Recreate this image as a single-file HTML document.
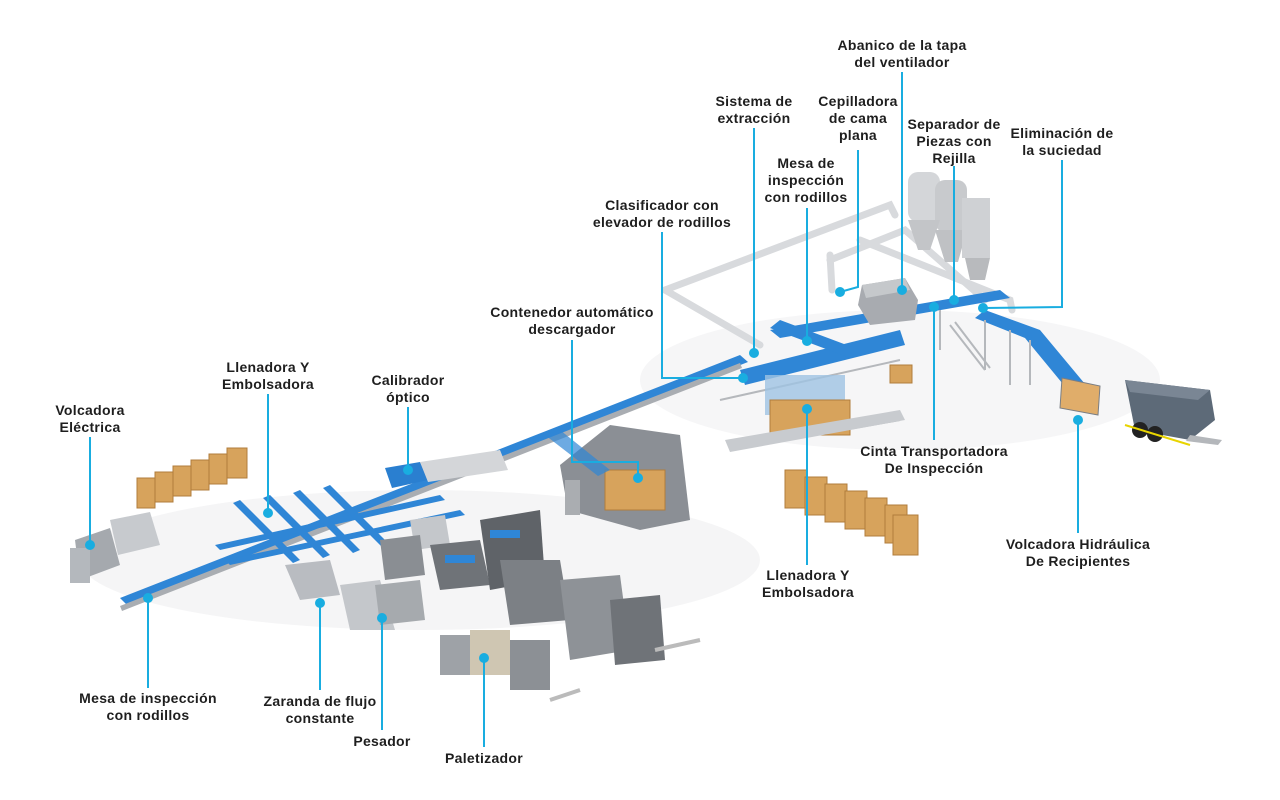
<!DOCTYPE html>
<html><head><meta charset="utf-8"><style>
html,body{margin:0;padding:0;background:#fff;}
svg{display:block;}
text{font-family:"Liberation Sans",Arial,sans-serif;font-weight:bold;font-size:14px;letter-spacing:0.3px;fill:#1e1e1e;text-anchor:middle;}
.l{stroke:#19ade0;stroke-width:2;fill:none;}
.d{fill:#19ade0;}
.belt{fill:#2f86d6;}
.box{fill:#d7a35c;stroke:#b07d3c;stroke-width:1;}
.pipe{stroke:#d8dadd;stroke-width:7;fill:none;stroke-linecap:round;}
</style></head><body>
<svg width="1280" height="800" viewBox="0 0 1280 800">
<ellipse cx="420" cy="560" rx="340" ry="70" fill="#f5f5f6"/>
<ellipse cx="900" cy="380" rx="260" ry="70" fill="#f6f6f7"/>
<path class="pipe" d="M665 290 L890 205 L895 215"/>
<path class="pipe" d="M665 290 L760 345"/>
<path class="pipe" d="M830 260 L905 230 L985 300"/>
<path class="pipe" d="M830 255 L832 290"/>
<path class="pipe" d="M860 240 L1010 300 L1012 310"/>
<rect x="908" y="172" width="32" height="50" rx="10" fill="#d4d6d9"/>
<rect x="935" y="180" width="32" height="52" rx="10" fill="#c8cacd"/>
<polygon points="908,220 940,220 930,250 918,250" fill="#c3c5c8"/>
<polygon points="935,230 967,230 958,262 945,262" fill="#bfc1c4"/>
<rect x="962" y="198" width="28" height="60" fill="#cfd1d4"/>
<polygon points="965,258 990,258 985,280 970,280" fill="#b8babd"/>
<polygon class="belt" points="120,598 740,355 748,362 128,606"/>
<polygon points="120,606 740,363 742,368 122,611" fill="#a9adb2"/>
<polygon class="belt" points="770,330 1000,290 1010,298 780,338"/>
<polygon class="belt" points="985,310 1040,330 1090,390 1072,395 1025,338 975,318"/>
<polygon class="belt" points="740,370 900,330 905,345 745,385"/>
<polygon class="belt" points="780,320 860,350 850,358 770,328"/>
<polygon points="862,285 905,278 918,300 915,320 870,325 858,305" fill="#a8abb0"/>
<polygon points="862,285 905,278 910,290 866,298" fill="#c5c8cb"/>
<g stroke="#b5b8bc" stroke-width="2">
<line x1="940" y1="310" x2="940" y2="350"/><line x1="985" y1="320" x2="985" y2="370"/>
<line x1="1010" y1="330" x2="1010" y2="385"/><line x1="1030" y1="340" x2="1030" y2="385"/>
<line x1="950" y1="325" x2="985" y2="370"/><line x1="955" y1="322" x2="990" y2="368"/>
<line x1="720" y1="400" x2="900" y2="360"/><line x1="730" y1="450" x2="900" y2="420"/>
</g>
<polygon points="1062,378 1100,386 1098,415 1060,408" fill="#e0ad6a" stroke="#7a7e84"/>
<polygon points="1125,380 1210,390 1215,420 1190,440 1135,430" fill="#5d6a78"/>
<polygon points="1125,380 1210,390 1198,400 1130,392" fill="#7a8694"/>
<circle cx="1140" cy="430" r="8" fill="#222"/><circle cx="1155" cy="434" r="8" fill="#222"/>
<polyline points="1125,425 1190,445" stroke="#e8d400" stroke-width="2" fill="none"/>
<polygon points="1190,435 1222,440 1218,445 1186,441" fill="#b4b7bb"/>
<g>
<rect class="box" x="137" y="478" width="18" height="30"/><rect class="box" x="155" y="472" width="18" height="30"/>
<rect class="box" x="173" y="466" width="18" height="30"/><rect class="box" x="191" y="460" width="18" height="30"/>
<rect class="box" x="209" y="454" width="18" height="30"/><rect class="box" x="227" y="448" width="20" height="30"/>
</g>
<g>
<rect class="box" x="785" y="470" width="22" height="38"/><rect class="box" x="805" y="477" width="22" height="38"/>
<rect class="box" x="825" y="484" width="22" height="38"/><rect class="box" x="845" y="491" width="22" height="38"/>
<rect class="box" x="865" y="498" width="22" height="38"/><rect class="box" x="885" y="505" width="22" height="38"/>
<rect class="box" x="893" y="515" width="25" height="40"/>
<rect class="box" x="890" y="365" width="22" height="18"/>
</g>
<rect x="765" y="375" width="80" height="40" fill="#9fc3e2" opacity="0.8"/>
<rect class="box" x="770" y="400" width="80" height="35"/>
<polygon points="725,440 900,410 905,420 730,452" fill="#c8cbcf"/>
<polygon points="560,465 610,425 680,435 690,520 640,530 568,510" fill="#8b8f95"/>
<rect class="box" x="605" y="470" width="60" height="40"/>
<rect x="565" y="480" width="15" height="35" fill="#aaadb1"/>
<polygon class="belt" points="545,435 560,430 610,470 598,476" opacity="0.7"/>
<polygon points="385,468 420,462 428,480 392,488" fill="#2a7fd0"/>
<polygon points="420,462 500,450 508,470 428,482" fill="#d4d6d9"/>
<polygon points="75,540 110,528 120,565 80,580" fill="#a5a9ae"/>
<polygon points="110,520 150,512 160,545 118,555" fill="#c7cace"/>
<rect x="70" y="548" width="20" height="35" fill="#b4b8bd"/>
<g class="belt">
<polygon points="215,545 440,495 445,500 220,550"/>
<polygon points="225,560 460,510 465,515 230,565"/>
<polygon points="240,500 300,560 293,563 233,503"/>
<polygon points="270,495 330,555 323,558 263,498"/>
<polygon points="300,490 360,550 353,553 293,493"/>
<polygon points="330,485 390,545 383,548 323,488"/>
</g>
<polygon points="285,565 330,560 340,595 300,600" fill="#b9bcc1"/>
<polygon points="340,585 380,580 395,630 350,630" fill="#c4c7cb"/>
<polygon points="375,585 420,580 425,620 380,625" fill="#a6aaae"/>
<polygon points="410,520 445,515 450,545 415,550" fill="#c4c7cb"/>
<polygon points="380,540 420,535 425,575 385,580" fill="#8a8e93"/>
<polygon points="430,545 480,540 490,585 440,590" fill="#6f7378"/>
<polygon points="480,520 540,510 545,580 490,590" fill="#5f6368"/>
<polygon points="500,560 560,560 570,620 510,625" fill="#7c8085"/>
<polygon points="560,580 620,575 630,650 570,660" fill="#8e9297"/>
<polygon points="610,600 660,595 665,660 615,665" fill="#6f7378"/>
<rect x="440" y="635" width="40" height="40" fill="#9ea2a7"/>
<rect x="470" y="630" width="40" height="45" fill="#cfc6b2"/>
<rect x="510" y="640" width="40" height="50" fill="#8c9095"/>
<polyline points="550,700 580,690" stroke="#bbb" stroke-width="4"/>
<polyline points="655,650 700,640" stroke="#bbb" stroke-width="4"/>
<rect x="445" y="555" width="30" height="8" class="belt"/>
<rect x="490" y="530" width="30" height="8" class="belt"/>
<g class="l">
<polyline points="902,72 902,290"/>
<polyline points="754,128 754,353"/>
<polyline points="858,150 858,287 840,292"/>
<polyline points="954,166 954,300"/>
<polyline points="1062,160 1062,307 983,308"/>
<polyline points="807,208 807,341"/>
<polyline points="662,232 662,378 743,378"/>
<polyline points="572,340 572,462 638,462 638,478"/>
<polyline points="934,307 934,440"/>
<polyline points="807,409 807,565"/>
<polyline points="1078,420 1078,533"/>
<polyline points="408,407 408,470"/>
<polyline points="268,394 268,513"/>
<polyline points="90,437 90,545"/>
<polyline points="148,598 148,688"/>
<polyline points="320,603 320,690"/>
<polyline points="382,618 382,730"/>
<polyline points="484,658 484,747"/>
</g>
<g class="d">
<circle cx="902" cy="290" r="5"/><circle cx="754" cy="353" r="5"/><circle cx="840" cy="292" r="5"/>
<circle cx="954" cy="300" r="5"/><circle cx="983" cy="308" r="5"/><circle cx="807" cy="341" r="5"/>
<circle cx="743" cy="378" r="5"/><circle cx="638" cy="478" r="5"/><circle cx="934" cy="307" r="5"/>
<circle cx="807" cy="409" r="5"/><circle cx="1078" cy="420" r="5"/><circle cx="408" cy="470" r="5"/>
<circle cx="268" cy="513" r="5"/><circle cx="90" cy="545" r="5"/><circle cx="148" cy="598" r="5"/>
<circle cx="320" cy="603" r="5"/><circle cx="382" cy="618" r="5"/><circle cx="484" cy="658" r="5"/>
</g>
<text x="902" y="50">Abanico de la tapa</text><text x="902" y="67">del ventilador</text>
<text x="754" y="106">Sistema de</text><text x="754" y="123">extracción</text>
<text x="858" y="106">Cepilladora</text><text x="858" y="123">de cama</text><text x="858" y="140">plana</text>
<text x="954" y="129">Separador de</text><text x="954" y="146">Piezas con</text><text x="954" y="163">Rejilla</text>
<text x="1062" y="138">Eliminación de</text><text x="1062" y="155">la suciedad</text>
<text x="806" y="168">Mesa de</text><text x="806" y="185">inspección</text><text x="806" y="202">con rodillos</text>
<text x="662" y="210">Clasificador con</text><text x="662" y="227">elevador de rodillos</text>
<text x="572" y="317">Contenedor automático</text><text x="572" y="334">descargador</text>
<text x="934" y="456">Cinta Transportadora</text><text x="934" y="473">De Inspección</text>
<text x="808" y="580">Llenadora Y</text><text x="808" y="597">Embolsadora</text>
<text x="1078" y="549">Volcadora Hidráulica</text><text x="1078" y="566">De Recipientes</text>
<text x="408" y="385">Calibrador</text><text x="408" y="402">óptico</text>
<text x="268" y="372">Llenadora Y</text><text x="268" y="389">Embolsadora</text>
<text x="90" y="415">Volcadora</text><text x="90" y="432">Eléctrica</text>
<text x="148" y="703">Mesa de inspección</text><text x="148" y="720">con rodillos</text>
<text x="320" y="706">Zaranda de flujo</text><text x="320" y="723">constante</text>
<text x="382" y="746">Pesador</text>
<text x="484" y="763">Paletizador</text>
</svg>
</body></html>
